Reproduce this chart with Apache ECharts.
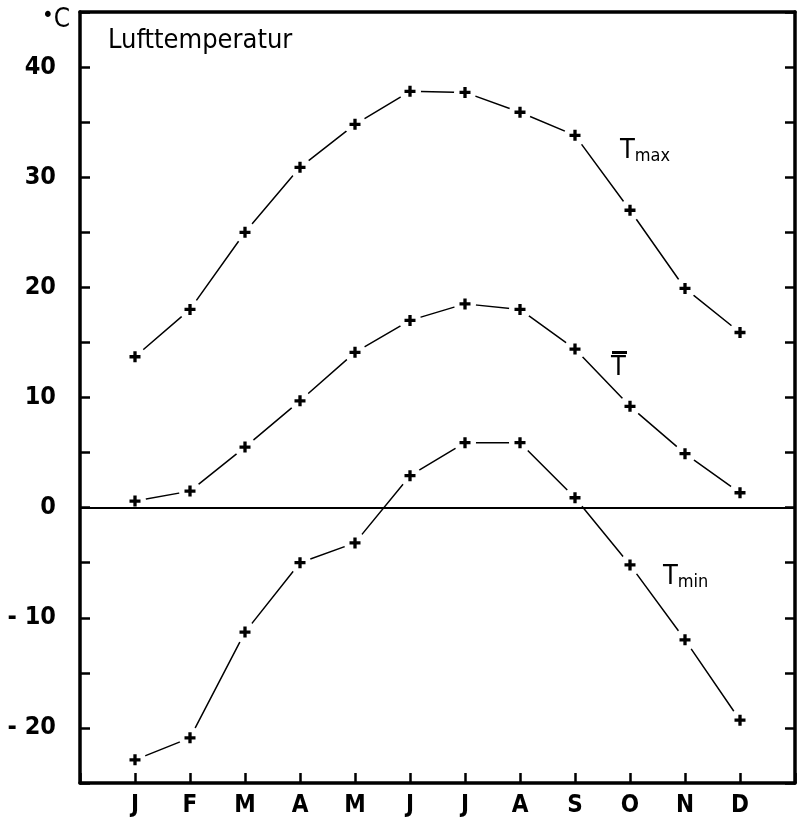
<!DOCTYPE html>
<html>
<head>
<meta charset="utf-8">
<script src="https://cdn.jsdelivr.net/npm/echarts@6/dist/echarts.min.js"></script>
<style>
html, body { margin: 0; padding: 0; background: #fff; }
#chart { width: 798px; height: 818px; }
</style>
</head>
<body>
<div id="chart"></div>
<script>
// Monatswerte der Lufttemperatur
var months = ['J', 'F', 'M', 'A', 'M', 'J', 'J', 'A', 'S', 'O', 'N', 'D'];
var tMax = [13.7, 18.0, 25.0, 30.9, 34.8, 37.8, 37.7, 35.9, 33.8, 27.0, 19.9, 15.9];
var tMean = [0.6, 1.5, 5.5, 9.7, 14.1, 17.0, 18.5, 18.0, 14.4, 9.2, 4.9, 1.35];
var tMin = [-22.9, -20.9, -11.3, -5.0, -3.2, 2.9, 5.9, 5.9, 0.9, -5.2, -12.0, -19.3];
var yTicks = [-20, -10, 0, 10, 20, 30, 40];

var plus = 'path://M3.5,0H6.5V3.5H10V6.5H6.5V10H3.5V6.5H0V3.5H3.5Z';
var font = '"DejaVu Sans Condensed", "DejaVu Sans"';

function toPairs(arr) {
    var out = [];
    for (var i = 0; i < arr.length; i++) {
        out.push([i + 1, arr[i]]);
    }
    return out;
}

var myChart = echarts.init(document.getElementById('chart'));

var series = [];
[tMax, tMean, tMin].forEach(function (d, k) {
    series.push({
        name: 'line' + k, type: 'line', data: toPairs(d),
        showSymbol: false, z: 2, silent: true,
        lineStyle: { color: '#000', width: 1.5 }
    });
    // weisser Fleck, damit die Linie vor dem Kreuz endet
    series.push({
        type: 'scatter', data: toPairs(d), symbol: 'circle', symbolSize: 22, z: 4, silent: true,
        itemStyle: { color: '#fff', opacity: 1 }
    });
    series.push({
        type: 'scatter', data: toPairs(d), symbol: plus, symbolSize: 11, z: 6, silent: true,
        itemStyle: { color: '#000', opacity: 1 }
    });
});

// Nulllinie ueber den weissen Flecken
series.push({
    type: 'line', data: [], z: 5, silent: true,
    markLine: {
        silent: true, symbol: 'none', label: { show: false },
        lineStyle: { color: '#000', width: 1.8, type: 'solid' },
        data: [{ yAxis: 0 }]
    }
});

var tickStyle = { color: '#000', width: 2.5 };

var options = {
    backgroundColor: '#fff',
    animation: false,
    grid: { left: 80, right: 2, top: 12, bottom: 35 },
    xAxis: [{
        type: 'value', min: 0, max: 13, interval: 1,
        axisLine: { onZero: false, lineStyle: { color: '#000', width: 3.5 } },
        axisTick: { inside: true, length: 10, lineStyle: tickStyle },
        axisLabel: {
            color: '#000', fontFamily: font, fontSize: 24, fontWeight: 'bold', margin: 11,
            formatter: function (v) { return v >= 1 && v <= 12 ? months[v - 1] : ''; }
        },
        splitLine: { show: false }
    }, {
        type: 'value', min: 0, max: 13, position: 'top',
        axisLine: { show: true, onZero: false, lineStyle: { color: '#000', width: 3.5 } },
        axisTick: { show: false }, axisLabel: { show: false }, splitLine: { show: false }
    }],
    yAxis: [{
        type: 'value', min: -25, max: 45, interval: 5,
        axisLine: { show: true, onZero: false, lineStyle: { color: '#000', width: 3.5 } },
        axisTick: { show: true, inside: true, length: 10, lineStyle: tickStyle },
        axisLabel: {
            color: '#000', fontFamily: font, fontSize: 25, fontWeight: 'bold', margin: 24,
            formatter: function (v) {
                if (yTicks.indexOf(v) < 0) return '';
                return v < 0 ? '- ' + (-v) : String(v);
            }
        },
        splitLine: { show: false }
    }, {
        type: 'value', min: -25, max: 45, interval: 5, position: 'right',
        axisLine: { show: true, onZero: false, lineStyle: { color: '#000', width: 3.5 } },
        axisTick: { show: true, inside: true, length: 10, lineStyle: tickStyle },
        axisLabel: { show: false }, splitLine: { show: false }
    }],
    graphic: [
        {
            type: 'text', left: 108, top: 27, z: 10,
            style: { text: 'Lufttemperatur', fontFamily: font, fontSize: 27, fill: '#000' }
        },
        {
            type: 'text', left: 42, top: 5, z: 10,
            style: {
                text: '{d|•}{c|C}', fill: '#000',
                rich: {
                    d: { fontFamily: font, fontSize: 22, fill: '#000', padding: [0, 0, 8, 0] },
                    c: { fontFamily: font, fontSize: 26, fill: '#000' }
                }
            }
        },
        {
            type: 'text', left: 620, top: 137, z: 10, style: {
                text: '{a|T}{b|max}', fill: '#000',
                rich: {
                    a: { fontFamily: font, fontSize: 27, fill: '#000' },
                    b: { fontFamily: font, fontSize: 18, fill: '#000', padding: [12, 0, 0, 0] }
                }
            }
        },
        {
            type: 'text', left: 611, top: 354, z: 10,
            style: { text: 'T', fontFamily: font, fontSize: 27, fill: '#000' }
        },
        {
            type: 'rect', left: 612, top: 351, z: 10, shape: { width: 15, height: 3 }, style: { fill: '#000' }
        },
        {
            type: 'text', left: 663, top: 563, z: 10, style: {
                text: '{a|T}{b|min}', fill: '#000',
                rich: {
                    a: { fontFamily: font, fontSize: 27, fill: '#000' },
                    b: { fontFamily: font, fontSize: 18, fill: '#000', padding: [12, 0, 0, 0] }
                }
            }
        }
    ],
    series: series
};

myChart.setOption(options);
</script>
</body>
</html>
